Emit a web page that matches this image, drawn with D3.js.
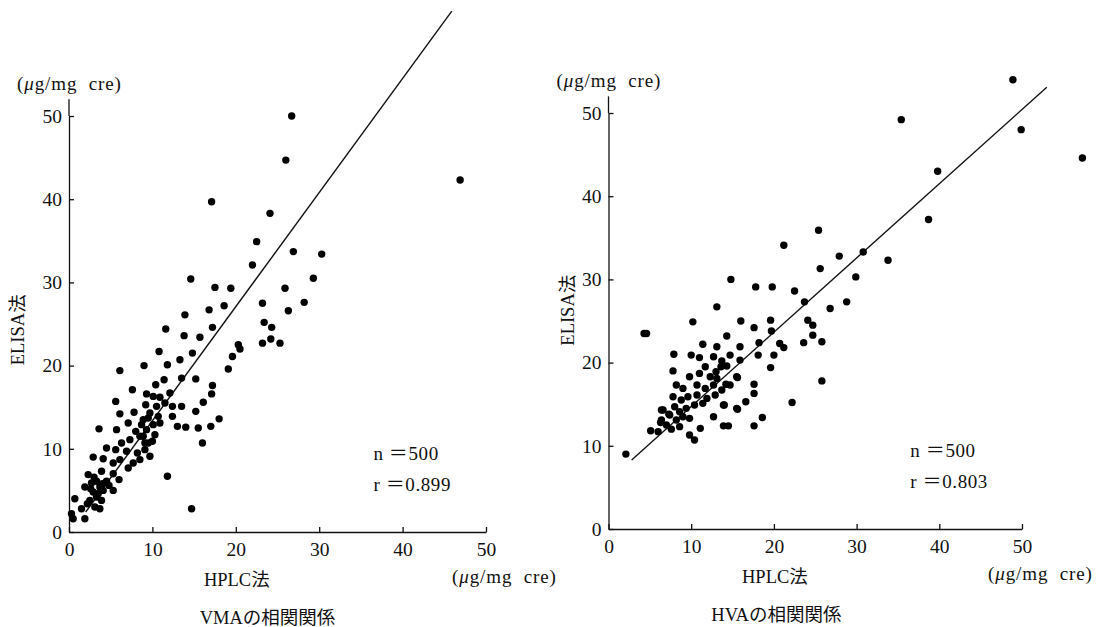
<!DOCTYPE html>
<html><head><meta charset="utf-8">
<script src="https://cdn.jsdelivr.net/npm/d3@7"></script>
<style>
html,body{margin:0;padding:0;background:#fff;}
svg text{font-family:"Liberation Serif","Noto Sans CJK JP",serif;fill:#111;}
</style></head>
<body>
<svg id="c" width="1104" height="627"></svg>
<script>
// ---- data ----
const ticks = [0, 10, 20, 30, 40, 50];
const unitPre = "(";
const unitMu = "\u03bc";
const unitPost = "g/mg  cre)";
const xAxisLabel = "HPLC法";
const yAxisLabel = "ELISA法";
const titles = ["VMAの相関関係", "HVAの相関関係"];
const nLabels = ["n \uff1d500", "n \uff1d500"];
const rLabels = ["r \uff1d0.899", "r \uff1d0.803"];

const vmaHPLC = [26.7,26.0,46.9,17.1,24.1,22.5,26.9,30.3,22.0,14.6,29.3,17.5,19.4,25.9,13.9,16.8,18.6,23.2,28.2,26.3,
 11.6,17.2,23.4,24.3,13.8,15.7,24.2,23.2,25.3,20.3,20.5,10.8,14.8,19.6,9.0,11.8,13.3,19.1,13.5,11.4,
 15.2,10.4,17.2,17.1,9.3,12.1,16.1,13.5,15.2,18.0,12.4,13.0,14.0,17.0,16.0,10.1,10.9,9.2,10.5,11.5,
 9.7,10.7,8.9,10.1,9.3,10.3,8.9,10.0,9.1,5.6,6.1,7.8,12.4,3.6,5.7,7.1,8.0,8.7,9.5,10.9,
 15.5,4.5,6.3,7.3,8.5,9.5,5.6,6.9,8.2,9.1,2.9,4.1,5.3,6.1,7.7,8.5,9.7,3.9,5.3,6.0,
 7.1,2.3,1.9,2.7,3.3,3.7,2.9,4.1,4.5,5.3,3.3,2.5,3.9,2.2,3.1,0.7,1.5,3.7,0.5,1.9,
 0.3,11.8,14.7,6.1,7.6,3.5,4.0,2.6,3.0,4.8];
const vmaELISA = [50.0,44.7,42.3,39.7,38.3,34.9,33.7,33.4,32.1,30.4,30.5,29.4,29.3,29.3,26.1,26.7,27.2,27.5,27.6,26.6,
 24.4,24.6,25.2,24.6,23.6,23.4,23.2,22.7,22.7,22.5,22.0,21.7,21.5,21.1,20.0,20.1,20.7,19.6,18.5,18.3,
 18.4,17.7,17.6,16.6,16.6,16.7,15.6,15.1,14.5,13.6,13.9,12.7,12.6,12.7,10.7,16.3,16.2,15.3,15.1,15.5,
 14.3,13.9,13.5,12.9,12.3,11.7,11.5,10.9,10.7,15.7,14.2,14.4,15.1,12.4,12.3,13.1,12.1,12.9,13.7,13.1,
 12.5,10.1,10.7,11.1,11.5,10.7,9.9,9.7,9.5,9.9,9.0,8.8,8.3,8.7,8.3,8.7,9.1,7.3,7.0,6.3,
 7.7,6.9,5.4,5.9,6.1,5.4,4.8,5.0,6.1,5.0,4.2,3.8,3.8,3.4,3.0,4.0,2.8,2.8,1.6,1.6,
 2.2,6.7,2.8,19.4,17.1,4.6,5.8,5.2,6.6,5.6];

const hvaHPLC = [48.9,35.4,49.9,57.3,39.8,38.7,25.4,21.2,27.9,30.8,33.8,25.6,29.9,22.5,23.7,28.8,26.8,14.8,17.8,19.8,
 13.1,10.2,4.6,16.0,17.6,19.6,19.7,24.1,24.7,14.3,11.4,13.1,15.9,18.2,20.7,21.2,23.6,24.7,25.8,20.0,
 18.1,7.9,10.0,11.0,12.7,14.7,13.7,15.9,11.7,14.3,19.6,7.8,15.6,17.6,17.6,14.2,16.6,15.6,13.9,22.2,
 18.6,17.6,13.9,14.5,12.7,11.1,9.8,10.4,7.6,6.3,5.1,6.4,7.3,2.1,13.6,9.8,11.0,12.3,13.0,13.1,
 8.2,9.0,10.7,11.7,12.7,13.7,14.7,15.5,7.8,8.8,9.6,10.7,11.9,12.9,8.0,8.6,9.4,10.4,11.4,14.0,
 15.5,6.6,7.4,8.2,9.0,9.8,6.4,7.0,8.6,6.0,25.8,4.3];
const hvaELISA = [54.0,49.2,48.0,44.6,43.0,37.2,35.9,34.1,32.8,33.3,32.3,31.3,30.3,28.6,27.3,27.3,26.5,30.0,29.1,29.1,
 26.7,24.9,23.5,25.0,24.2,25.1,23.8,25.1,24.5,23.2,22.2,21.9,21.9,22.4,22.3,21.8,22.4,23.3,22.5,20.9,
 20.9,21.0,20.9,20.6,20.7,20.9,20.2,20.3,19.5,19.6,19.4,19.0,18.2,17.4,16.3,17.4,15.3,14.4,14.9,15.2,
 13.4,12.4,12.4,12.4,13.5,12.1,11.3,10.7,12.0,12.8,11.8,14.3,13.8,9.0,19.5,18.3,18.7,18.3,18.9,18.1,
 17.3,16.9,17.3,16.9,17.3,16.7,17.3,18.3,15.9,15.5,15.9,16.1,15.7,16.1,14.7,14.1,14.5,14.9,15.1,14.9,
 14.5,14.3,13.7,13.1,13.5,13.3,13.1,12.5,12.3,11.7,17.8,23.5];

// regression lines (endpoints in data units)
const vmaFitX = [2.0, 45.9];
const vmaFitY = [2.4, 62.6];
const hvaFitX = [2.8, 53.0];
const hvaFitY = [8.3, 53.1];

// ---- drawing ----
const svg = d3.select("#c");
const panels = [
  {xs:d3.scaleLinear().domain([0,50]).range([69,486]), ys:d3.scaleLinear().domain([0,50]).range([532,116]),
   hx:vmaHPLC, ey:vmaELISA, fx:vmaFitX, fy:vmaFitY, i:0, yl:51, ylv:24.3, tv:23.8},
  {xs:d3.scaleLinear().domain([0,50]).range([608.5,1022]), ys:d3.scaleLinear().domain([0,50]).range([529,113]),
   hx:hvaHPLC, ey:hvaELISA, fx:hvaFitX, fy:hvaFitY, i:1, yl:41, ylv:26.3, tv:20.3}
];

function unit(g, x, y) {
  const t = g.append("text").attr("x", x).attr("y", y).attr("font-size", 19)
    .attr("letter-spacing", 0.9);
  t.append("tspan").text(unitPre);
  t.append("tspan").attr("font-style","italic").text(unitMu);
  t.append("tspan").attr("xml:space","preserve").style("white-space","pre").text(unitPost);
}

panels.forEach(p => {
  const g = svg.append("g");
  const xs = p.xs, ys = p.ys;
  const ax = g.append("g").attr("transform",`translate(0,${ys(0)})`)
    .call(d3.axisBottom(xs).tickValues(ticks).tickSizeInner(-5).tickSizeOuter(0).tickPadding(9));
  const ay = g.append("g").attr("transform",`translate(${xs(0)},0)`)
    .call(d3.axisLeft(ys).tickValues(ticks).tickSizeInner(-5).tickSizeOuter(0).tickPadding(7));
  [ax, ay].forEach(a => {
    a.selectAll("path,line").attr("stroke","#111").attr("stroke-width",1.3);
    a.selectAll("text").attr("font-size",19.5).attr("font-family","Liberation Serif").attr("fill","#111");
  });
  ax.selectAll("text").attr("dy","0.75em");
  g.append("line").attr("x1",xs(0)).attr("x2",xs(0)).attr("y1",ys(50)).attr("y2",ys(52))
    .attr("stroke","#111").attr("stroke-width",1.3);

  g.append("line").attr("x1",xs(p.fx[0])).attr("y1",ys(p.fy[0]))
    .attr("x2",xs(p.fx[1])).attr("y2",ys(p.fy[1])).attr("stroke","#111").attr("stroke-width",1.4);

  g.selectAll("circle.pt").data(p.hx.map((v,k)=>[v,p.ey[k]])).enter().append("circle")
    .attr("class","pt").attr("cx",d=>xs(d[0])).attr("cy",d=>ys(d[1])).attr("r",3.7).attr("fill","#000");

  unit(g, xs(0)-52, ys(52)-9);
  unit(g, xs(50)-34, ys(0)+51);
  g.append("text").attr("x",xs(20)+1).attr("y",ys(0)+54).attr("font-size",18.5).attr("text-anchor","middle").text(xAxisLabel);
  g.append("text").attr("transform",`translate(${xs(0)-p.yl+6},${ys(p.ylv)}) rotate(-90)`)
    .attr("font-size",18.5).attr("text-anchor","middle").text(yAxisLabel);
  g.append("text").attr("x",xs(p.tv)).attr("y",ys(0)+92).attr("font-size",18.5).attr("text-anchor","middle").text(titles[p.i]);
  g.append("text").attr("x",xs(36.5)).attr("y",ys(8.7)).attr("font-size",19).attr("letter-spacing",0.6).text(nLabels[p.i]);
  g.append("text").attr("x",xs(36.5)).attr("y",ys(4.9)).attr("font-size",19).attr("letter-spacing",0.6).text(rLabels[p.i]);
});
</script>
</body></html>
